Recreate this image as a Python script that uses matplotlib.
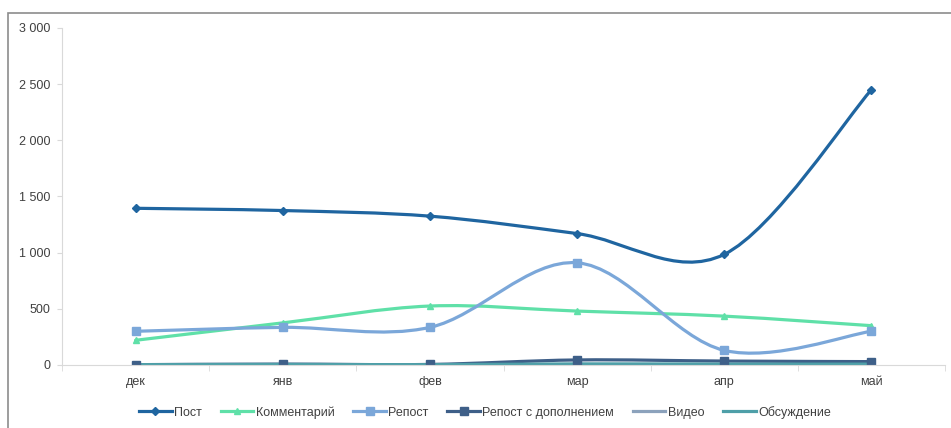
import matplotlib.pyplot as plt
from matplotlib.path import Path
from matplotlib.patches import PathPatch, Rectangle
from matplotlib.lines import Line2D
import numpy as np

months = ["дек", "янв", "фев", "мар", "апр", "май"]
post = [1395, 1375, 1325, 1170, 985, 2450]
comments = [220, 375, 525, 480, 435, 350]
reposts = [300, 335, 335, 910, 130, 300]
reposts_plus = [3, 8, 5, 45, 35, 30]
video = [0, 0, 0, 2, 1, 1]
discussion = [3, 5, 3, 10, 8, 8]

series = [
    ("Пост", post, "#1f65a0", "D", 4),
    ("Комментарий", comments, "#5fe0a8", "^", 5),
    ("Репост", reposts, "#7ba7d9", "s", 6),
    ("Репост с дополнением", reposts_plus, "#3e5f88", "s", 6),
    ("Видео", video, "#8ca2bc", None, 0),
    ("Обсуждение", discussion, "#4e9fa8", None, 0),
]

plt.rcParams["font.family"] = ["Liberation Sans", "DejaVu Sans"]


def smooth_path(xs, ys):
    # excel-like smoothing: catmull-rom turned into cubic bezier
    pts = list(zip(xs, ys))
    verts = [pts[0]]
    codes = [Path.MOVETO]
    n = len(pts)
    for i in range(n - 1):
        p0 = np.array(pts[max(i - 1, 0)], float)
        p1 = np.array(pts[i], float)
        p2 = np.array(pts[i + 1], float)
        p3 = np.array(pts[min(i + 2, n - 1)], float)
        c1 = p1 + (p2 - p0) / 6
        c2 = p2 - (p3 - p1) / 6
        verts += [tuple(c1), tuple(c2), tuple(p2)]
        codes += [Path.CURVE4] * 3
    return Path(verts, codes)


fig = plt.figure(figsize=(9.51, 4.28), dpi=100)
ax = fig.add_axes([0.0652, 0.1472, 0.9285, 0.7874])

x = np.arange(len(months))
handles = []
for name, vals, color, marker, ms in series:
    ax.add_patch(PathPatch(smooth_path(x, vals), facecolor="none",
                           edgecolor=color, lw=2.3, capstyle="round"))
    if marker:
        ax.plot(x, vals, linestyle="none", marker=marker, ms=ms, color=color)
    handles.append(Line2D([], [], color=color, lw=2.3, marker=marker, ms=ms))

ax.set_xlim(-0.5, 5.5)
ax.set_ylim(0, 3000)
ax.set_yticks(range(0, 3001, 500))
ax.set_yticklabels([f"{v:,}".replace(",", " ") for v in range(0, 3001, 500)])
ax.set_xticks(x)
ax.set_xticklabels(months)
ax.set_xticks(np.arange(-0.5, 6, 1), minor=True)
ax.tick_params(axis="x", which="major", length=0, pad=8)
ax.tick_params(axis="x", which="minor", length=4, color="#d9d9d9")
ax.tick_params(axis="y", length=3.6, color="#d9d9d9", pad=5)
ax.tick_params(labelsize=9, labelcolor="#404040")
for s in ["top", "right"]:
    ax.spines[s].set_visible(False)
ax.spines["left"].set_color("#d9d9d9")
ax.spines["bottom"].set_color("#d9d9d9")

fig.legend(handles, [s[0] for s in series], loc="center", ncol=6,
           bbox_to_anchor=(0.51, 0.037), frameon=False, fontsize=9,
           handlelength=2.6, handletextpad=0.2, columnspacing=1.5,
           labelcolor="#404040")

fig.patches.append(Rectangle((8 / 951, -0.1), 2, 1 - 13 / 428 + 0.1,
                             transform=fig.transFigure, fill=False,
                             edgecolor="#8c8c8c", lw=1.2))

fig.savefig("out.png", dpi=100)
